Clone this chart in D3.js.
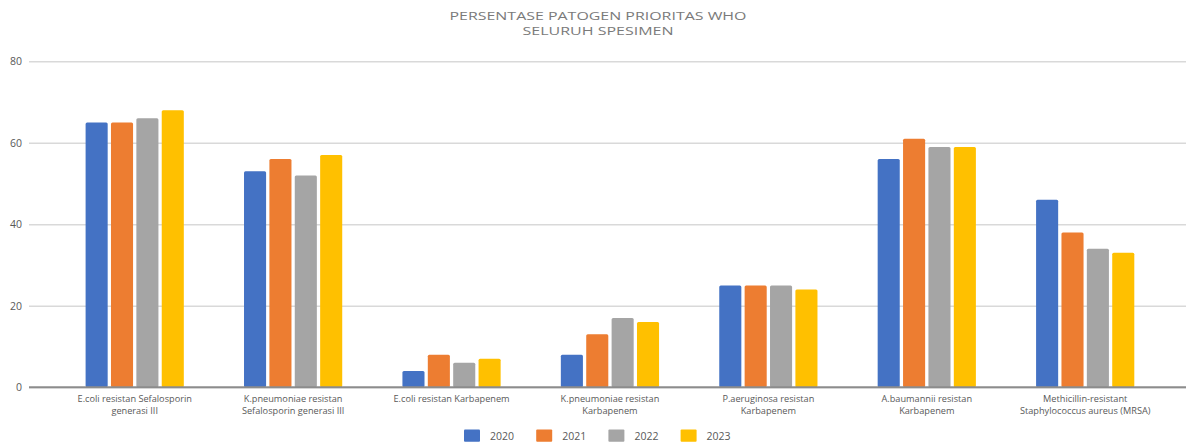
<!DOCTYPE html>
<html>
<head>
<meta charset="utf-8">
<script src="https://cdn.jsdelivr.net/npm/d3@7"></script>
<style>
  html, body { margin: 0; padding: 0; background: #ffffff; }
  svg { display: block; }
  text { font-family: "Open Sans", "Noto Sans", sans-serif; }
</style>
</head>
<body>
<div id="chart"></div>
<script>
const titleLines = ["PERSENTASE PATOGEN PRIORITAS WHO", "SELURUH SPESIMEN"];
const categories = [
  "E.coli resistan Sefalosporin\ngenerasi III",
  "K.pneumoniae resistan\nSefalosporin generasi III",
  "E.coli resistan Karbapenem",
  "K.pneumoniae resistan\nKarbapenem",
  "P.aeruginosa resistan\nKarbapenem",
  "A.baumannii resistan\nKarbapenem",
  "Methicillin-resistant\nStaphylococcus aureus (MRSA)"
];
const years = ["2020", "2021", "2022", "2023"];
const values2020 = [65, 53, 4, 8, 25, 56, 46];
const values2021 = [65, 56, 8, 13, 25, 61, 38];
const values2022 = [66, 52, 6, 17, 25, 59, 34];
const values2023 = [68, 57, 7, 16, 24, 59, 33];
const yTicks = [0, 20, 40, 60, 80];
const colors = ["#4472C4", "#ED7D31", "#A5A5A5", "#FFC000"];

const series = [values2020, values2021, values2022, values2023];

const W = 1186, H = 443;
const svg = d3.select("#chart").append("svg").attr("width", W).attr("height", H);

const gridLeft = 29, gridRight = 1186;
const y = d3.scaleLinear().domain([0, 80]).range([387.3, 61.3]);
const x0 = d3.scaleBand().domain(categories).range([55.5, 1164.4])
  .paddingInner(0.38).paddingOuter(0.19);
const x1 = d3.scaleBand().domain(years).range([0, x0.bandwidth()]).paddingInner(0.13);
const color = d3.scaleOrdinal().domain(years).range(colors);

// Title
const title = svg.append("g");
const titleLens = [297, 151];
const titleY = [20, 35];
titleLines.forEach((t, i) => {
  title.append("text")
    .attr("x", 598).attr("y", titleY[i])
    .attr("text-anchor", "middle")
    .attr("font-size", 11)
    .attr("fill", "#7a7a7a")
    .attr("textLength", titleLens[i])
    .attr("lengthAdjust", "spacingAndGlyphs")
    .text(t);
});

// Gridlines + y labels
const yAxis = d3.axisLeft(y).tickValues(yTicks).tickSize(-(gridRight - gridLeft)).tickPadding(7);
const gy = svg.append("g").attr("transform", `translate(${gridLeft},0)`).call(yAxis);
gy.select(".domain").remove();
gy.selectAll(".tick line").attr("stroke", "#d9d9d9").attr("stroke-width", 1.5);
gy.selectAll(".tick text").attr("fill", "#595959").attr("font-size", 10.5)
  .attr("font-family", '"Open Sans", sans-serif');

// Bars
const groups = svg.append("g").selectAll("g")
  .data(categories)
  .join("g")
  .attr("transform", d => `translate(${x0(d)},0)`);

groups.selectAll("rect")
  .data((d, ci) => years.map((yr, si) => ({ yr, v: series[si][ci] })))
  .join("rect")
  .attr("x", d => x1(d.yr))
  .attr("y", d => y(d.v))
  .attr("width", x1.bandwidth())
  .attr("height", d => y(0) - y(d.v))
  .attr("rx", 1.5)
  .attr("fill", d => color(d.yr));

// Baseline (x axis)
const xAxis = d3.axisBottom(x0).tickSize(0).tickFormat("");
const gx = svg.append("g").attr("transform", `translate(0,${y(0)})`).call(xAxis);
gx.select(".domain").remove();
svg.append("line")
  .attr("x1", gridLeft).attr("x2", gridRight)
  .attr("y1", y(0)).attr("y2", y(0))
  .attr("stroke", "#8c8c8c").attr("stroke-width", 2);

// Category labels
gx.selectAll(".tick").each(function(d) {
  const g = d3.select(this);
  g.selectAll("text").remove();
  const t = g.append("text")
    .attr("text-anchor", "middle")
    .attr("font-size", 9.2)
    .attr("fill", "#595959");
  d.split("\n").forEach((line, i) => {
    t.append("tspan").attr("x", 0).attr("y", 14.6 + i * 12.6).text(line);
  });
});

// Legend
const legend = svg.append("g").attr("transform", "translate(464,429.5)");
const item = legend.selectAll("g").data(years).join("g")
  .attr("transform", (d, i) => `translate(${i * 72.2},0)`);
item.append("rect").attr("width", 16).attr("height", 12.3).attr("rx", 1)
  .attr("fill", d => color(d));
item.append("text").attr("x", 26).attr("y", 10.3)
  .attr("font-size", 10.5).attr("fill", "#595959").text(d => d);
</script>
</body>
</html>
